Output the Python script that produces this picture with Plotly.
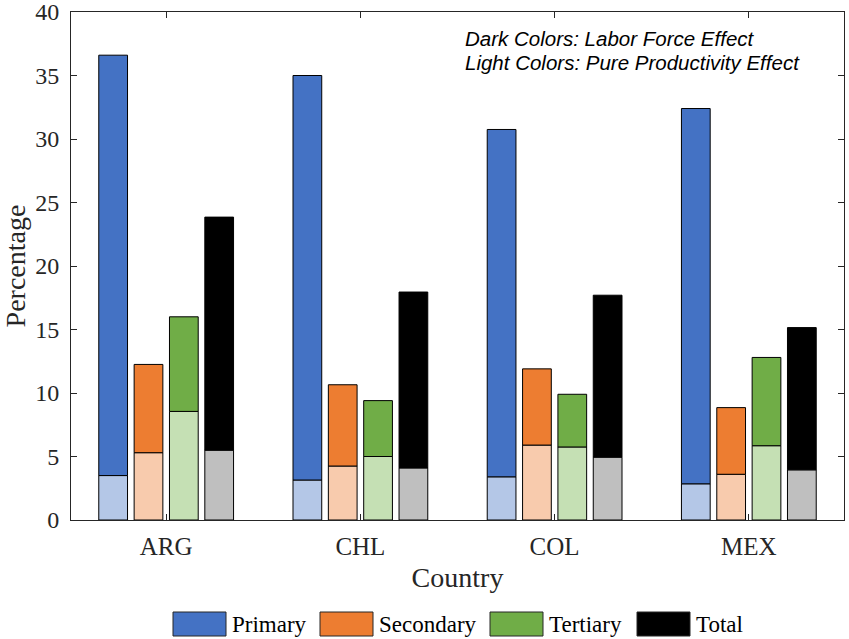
import plotly.graph_objects as go

# Data
countries = ["ARG", "CHL", "COL", "MEX"]
sectors = ["Primary", "Secondary", "Tertiary", "Total"]

# bar heights (total of each stacked bar)
primary_total = [36.6, 35.0, 30.75, 32.4]
secondary_total = [12.25, 10.65, 11.9, 8.85]
tertiary_total = [16.0, 9.4, 9.9, 12.8]
total_total = [23.85, 17.95, 17.7, 15.15]

# pure productivity effect (light bottom part)
primary_pure = [3.5, 3.15, 3.4, 2.85]
secondary_pure = [5.3, 4.25, 5.9, 3.6]
tertiary_pure = [8.55, 5.0, 5.75, 5.85]
total_pure = [5.5, 4.1, 4.95, 3.95]

dark_colors = ["#4472C4", "#ED7D31", "#70AD47", "#000000"]
light_colors = ["#B4C7E7", "#F8CBAD", "#C5E0B4", "#BFBFBF"]

totals = [primary_total, secondary_total, tertiary_total, total_total]
pures = [primary_pure, secondary_pure, tertiary_pure, total_pure]

x_pos = list(range(1, len(countries) + 1))

# plot area in pixels (for placing legend / note)
W, H = 849, 639
L, R, T, B = 71, 5, 12, 119
pw = W - L - R
ph = H - T - B

def px_to_paper(px, py):
    return (px - L) / pw, (H - B - py) / ph

fig = go.Figure()

for i, name in enumerate(sectors):
    labor = [t - p for t, p in zip(totals[i], pures[i])]
    # light part (pure productivity effect)
    fig.add_trace(go.Bar(
        x = x_pos,
        y = pures[i],
        name = name,
        offsetgroup = str(i),
        marker = dict(color = light_colors[i], line = dict(color = "black", width = 1)),
        showlegend = False
    ))
    # dark part (labor force effect) on top
    fig.add_trace(go.Bar(
        x = x_pos,
        y = labor,
        base = pures[i],
        name = name,
        offsetgroup = str(i),
        marker = dict(color = dark_colors[i], line = dict(color = "black", width = 1)),
        showlegend = False
    ))

serif = "Liberation Serif"
ink = "#262626"

fig.update_layout(
    width = W,
    height = H,
    margin = dict(l = L, r = R, t = T, b = B),
    plot_bgcolor = "white",
    paper_bgcolor = "white",
    barmode = "group",
    bargap = 0.272,
    bargroupgap = 0.187,
    showlegend = False,
    font = dict(family = serif, size = 25, color = ink),
    xaxis = dict(
        range = [0.51, 4.49],
        tickvals = x_pos,
        ticktext = countries,
        ticks = "inside",
        ticklen = 6,
        tickcolor = ink,
        showline = True,
        linecolor = ink,
        linewidth = 1,
        mirror = "ticks",
        showgrid = False,
        zeroline = False,
        automargin = False,
        ticklabelstandoff = 4,
        tickfont = dict(family = serif, size = 25, color = ink),
        title = dict(text = "Country", font = dict(family = serif, size = 28, color = ink), standoff = 8),
    ),
    yaxis = dict(
        range = [0, 40],
        dtick = 5,
        ticks = "inside",
        ticklen = 6,
        tickcolor = ink,
        showline = True,
        linecolor = ink,
        linewidth = 1,
        mirror = "ticks",
        showgrid = False,
        zeroline = False,
        automargin = False,
        ticklabeloverflow = "allow",
        ticklabelstandoff = 6,
        tickfont = dict(family = serif, size = 24, color = ink),
        title = dict(text = "Percentage", font = dict(family = serif, size = 28, color = ink), standoff = 4),
    ),
)

# Legend drawn as boxes + labels under the axes
legend_box_left = [173, 320, 490, 637]
box_w, box_h, legend_y = 53, 24, 624
for i, name in enumerate(sectors):
    x0, y0 = px_to_paper(legend_box_left[i], legend_y + box_h / 2)
    x1, y1 = px_to_paper(legend_box_left[i] + box_w, legend_y - box_h / 2)
    fig.add_shape(
        type = "rect", xref = "paper", yref = "paper",
        x0 = x0, x1 = x1, y0 = y0, y1 = y1,
        fillcolor = dark_colors[i],
        line = dict(color = ink, width = 1)
    )
    tx, ty = px_to_paper(legend_box_left[i] + box_w + 4, legend_y)
    fig.add_annotation(
        x = tx, y = ty, xref = "paper", yref = "paper",
        xanchor = "left", yanchor = "middle",
        text = name,
        font = dict(family = serif, size = 23, color = "black"),
        showarrow = False
    )

# Note in upper right
note_lines = ["Dark Colors: Labor Force Effect", "Light Colors: Pure Productivity Effect"]
note_y = [38, 62]
for line, ny in zip(note_lines, note_y):
    nx, nyp = px_to_paper(463, ny)
    fig.add_annotation(
        x = nx, y = nyp, xref = "paper", yref = "paper",
        xanchor = "left", yanchor = "middle",
        text = "<i>" + line + "</i>",
        font = dict(family = "Liberation Sans", size = 20.5, color = "black"),
        showarrow = False
    )

# page body has a default margin; drop it so the figure sits at the top-left corner
fig.write_html(
    "out.html",
    config = {"displayModeBar": False},
    post_script = "document.body.style.margin = '0';"
)
